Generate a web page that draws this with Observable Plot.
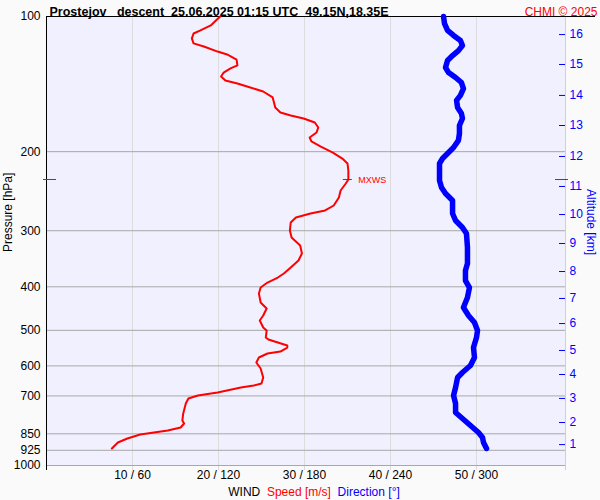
<!DOCTYPE html>
<html>
<head>
<meta charset="utf-8">
<script src="https://cdn.jsdelivr.net/npm/d3@7"></script>
<script src="https://cdn.jsdelivr.net/npm/@observablehq/plot@0.6"></script>
<style>
  html, body { margin: 0; padding: 0; background: #fafafa; }
  #wrap { width: 600px; height: 500px; font-family: "Liberation Sans", Arial, sans-serif; }
  #legend { height: 15px; line-height: 15px; font-size: 12px; text-align: center; padding-left: 28px; box-sizing: border-box; width: 600px; white-space: pre; }
</style>
</head>
<body>
<div id="wrap"></div>
<script>
// ---- data ----
const titleText = "Prostejov\u00a0\u00a0\u00a0descent\u00a0\u00a025.06.2025 01:15 UTC\u00a0\u00a049.15N,18.35E";
const creditText = "CHMI \u00a9 2025";

// wind speed profile: pressure [hPa], speed [m/s]
const speedP = [100, 102.1, 104.7, 107.4, 109.1, 111.9, 114.8, 116.6, 119.7, 121.5, 124.7, 128.5, 130.5, 133.3, 136.0, 138.8, 141.0, 143.9, 146.9, 151.4, 159.4, 163.6, 166.1, 168.7, 172.2, 176.7, 181.3, 186.0, 189.8, 194.8, 200.9, 207.2, 212.5, 220.3, 230.7, 235.5, 244.1, 253.0, 263.6, 270.4, 274.6, 280.3, 287.6, 299.6, 310.6, 323.6, 337.2, 349.5, 362.3, 373.6, 381.4, 391.3, 401.4, 414.0, 433.6, 447.1, 463.5, 475.5, 492.8, 500.5, 518.8, 524.1, 532.2, 540.5, 546.1, 557.4, 563.1, 574.8, 589.7, 608.1, 636.8, 656.7, 663.5, 670.3, 687.7, 698.4, 709.2, 727.6, 765.9, 793.9, 806.2, 822.9, 835.7, 853.0, 870.7, 888.7, 916.5];
const speedV = [20.2, 19.7, 19.1, 17.9, 17.1, 16.9, 17.1, 18.3, 19.9, 21.0, 22.1, 22.2, 21.4, 20.6, 20.3, 20.8, 22.2, 23.7, 25.2, 26.3, 26.6, 27.2, 28.4, 29.9, 31.2, 31.6, 31.4, 30.6, 30.8, 31.9, 33.3, 34.4, 35.0, 35.1, 35.1, 34.8, 34.2, 34.0, 33.4, 32.4, 30.7, 29.0, 28.4, 28.3, 28.5, 29.5, 29.7, 29.3, 28.4, 27.6, 26.9, 25.7, 24.9, 24.7, 24.9, 25.6, 25.2, 24.8, 25.2, 25.6, 25.5, 25.8, 26.9, 28.0, 28.0, 27.2, 25.7, 24.7, 24.4, 24.9, 25.2, 25.0, 24.1, 22.6, 19.9, 17.6, 16.5, 16.2, 15.9, 15.8, 16.0, 15.6, 14.1, 10.9, 9.4, 8.3, 7.6];

// wind direction profile: pressure [hPa], direction [deg]
const dirP = [100, 103.7, 107.4, 110.2, 113.1, 116.0, 119.1, 122.2, 125.3, 129.9, 133.3, 136.7, 140.3, 144.7, 149.9, 153.8, 159.4, 164.4, 168.7, 174.9, 182.2, 188.8, 195.8, 201.9, 207.2, 212.5, 231.9, 240.4, 247.9, 256.9, 274.6, 284.7, 295.1, 304.3, 327.0, 354.9, 368.0, 387.3, 401.4, 422.6, 444.8, 463.5, 480.4, 500.5, 518.8, 546.1, 574.8, 598.9, 620.6, 636.8, 670.3, 698.4, 727.6, 762.0, 785.8, 814.5, 844.4, 866.2, 888.7, 916.5];
const dirV = [277.0, 277.7, 279.8, 284.0, 288.8, 290.2, 287.4, 283.3, 279.8, 278.4, 280.5, 285.4, 289.5, 290.9, 288.8, 286.1, 286.8, 289.5, 290.2, 288.1, 288.1, 287.4, 284.0, 279.8, 276.3, 274.2, 274.2, 275.6, 278.4, 283.3, 283.3, 285.4, 290.2, 293.0, 293.7, 293.7, 292.3, 292.3, 295.1, 293.7, 290.9, 294.4, 298.6, 300.7, 300.0, 297.9, 298.6, 295.8, 290.2, 286.8, 285.4, 284.0, 285.4, 285.4, 290.2, 295.8, 301.4, 304.2, 304.9, 307.0];

// maximum wind
const mxwsP = [230.7];
const mxwsV = [35.1];
const mxwsLabel = "MXWS";

// axes
const pressureTicks = [100, 200, 300, 400, 500, 600, 700, 850, 925, 1000];
const pressureGrid = [200, 300, 400, 500, 600, 700, 850, 925, 1000];
const altKm = [1, 2, 3, 4, 5, 6, 7, 8, 9, 10, 11, 12, 13, 14, 15, 16];
const altP = [898.4, 802.2, 709.0, 627.1, 554.4, 482.9, 424.6, 369.8, 320.3, 276.1, 239.1, 205.0, 174.9, 149.9, 127.9, 109.7];
const windTicks = [10, 20, 30, 40, 50];
const windTickLabels = ["10 / 60", "20 / 120", "30 / 180", "40 / 240", "50 / 300"];
const speedMax = 60.35;      // right edge of the speed axis
const degPerMs = 6;          // 10 m/s  <->  60 deg

// ---- tables ----
const speedData = speedP.map((p, i) => ({p, v: speedV[i]}));
const dirData = dirP.map((p, i) => ({p, v: dirV[i] / degPerMs}));
const mxData = mxwsP.map((p, i) => ({p, v: mxwsV[i]}));
const altData = altKm.map((k, i) => ({k, p: altP[i]}));
const windData = windTicks.map((v, i) => ({v, label: windTickLabels[i]}));

const RED = "#ff0000", BLUE = "#0000ff";
const font = "'Liberation Sans', Arial, sans-serif";

const chart = Plot.plot({
  width: 600,
  height: 485,
  marginLeft: 46,
  marginRight: 35,
  marginTop: 16,
  marginBottom: 20,
  style: {background: "#fafafa", fontFamily: font, fontSize: "12px", color: "black", overflow: "visible"},
  x: {domain: [0, speedMax], axis: null},
  y: {type: "log", domain: [100, 1000], reverse: true, axis: null},
  marks: [
    Plot.frame({fill: "#f0f0ff", stroke: "none"}),
    // vertical grid lines
    Plot.ruleX(windTicks, {stroke: "#dcdcdc", strokeWidth: 1, insetBottom: -5}),
    Plot.ruleX([speedMax], {stroke: "#d0d0d0", strokeWidth: 1, insetBottom: -5}),
    // horizontal grid lines
    Plot.ruleY(pressureGrid, {stroke: "#a8a8a8", strokeWidth: 1}),
    // top line (title underline) and left axis
    Plot.ruleY([100], {stroke: "black", strokeWidth: 1, insetRight: -30}),
    Plot.ruleX([0], {stroke: "black", strokeWidth: 1, insetBottom: -5}),
    // left pressure labels
    Plot.text(pressureTicks, {x: 0, y: d => d, text: d => String(d), dx: -6, textAnchor: "end", fill: "black", fontSize: 12}),
    // right altitude ticks and labels
    Plot.ruleY(altData, {y: "p", x1: speedMax, x2: speedMax, insetLeft: -6, stroke: BLUE, strokeWidth: 1}),
    Plot.text(altData, {x: speedMax, y: "p", text: d => String(d.k), dx: 4, textAnchor: "start", fill: BLUE, fontSize: 12}),
    // bottom wind tick labels
    Plot.text(windData, {x: "v", text: "label", frameAnchor: "bottom", dy: 13, fill: "black", fontSize: 12}),
    // MXWS markers
    Plot.ruleY(mxData, {y: "p", x1: 0, x2: 0, insetLeft: -3, insetRight: -10, stroke: RED, strokeWidth: 1}),
    Plot.ruleY(mxData, {y: "p", x1: speedMax, x2: speedMax, insetLeft: -10, insetRight: -3, stroke: RED, strokeWidth: 1}),
    // profiles
    Plot.line(dirData, {x: "v", y: "p", stroke: BLUE, strokeWidth: 5.5, strokeLinecap: "round", strokeLinejoin: "round", curve: "linear"}),
    Plot.line(speedData, {x: "v", y: "p", stroke: RED, strokeWidth: 2, curve: "linear"}),
    Plot.ruleY(mxData, {y: "p", x1: "v", x2: "v", insetLeft: -5, insetRight: -4, stroke: RED, strokeWidth: 1}),
    Plot.text(mxData, {x: "v", y: "p", text: () => mxwsLabel, dx: 10, dy: 1, textAnchor: "start", fill: RED, fontSize: 9}),
    // titles
    Plot.text([titleText], {frameAnchor: "top-left", text: d => d, dx: 3, dy: -9, textAnchor: "start", fontWeight: "bold", fontSize: 12.5, fill: "black"}),
    Plot.text([creditText], {frameAnchor: "top-right", text: d => d, dx: 32, dy: -9, textAnchor: "end", fontSize: 12, fill: RED}),
    Plot.text(["Pressure [hPa]"], {frameAnchor: "left", text: d => d, rotate: -90, dx: -38, dy: 11, fontSize: 12, fill: "black"}),
    Plot.text(["Altitude [km]"], {frameAnchor: "right", text: d => d, rotate: 90, dx: 25, dy: 14, fontSize: 12, fill: BLUE})
  ]
});

const wrap = document.getElementById("wrap");
wrap.appendChild(chart);
const legend = document.createElement("div");
legend.id = "legend";
legend.innerHTML = '<span style="color:black">WIND</span>  <span style="color:#ff0000">Speed [m/s]</span>  <span style="color:#0000ff">Direction [\u00b0]</span>';
wrap.appendChild(legend);
</script>
</body>
</html>
